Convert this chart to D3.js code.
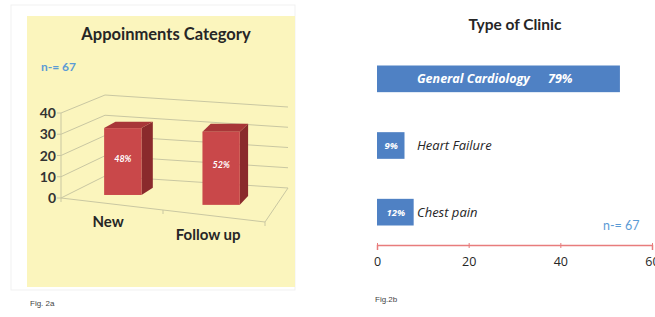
<!DOCTYPE html>
<html>
<head>
<meta charset="utf-8">
<script src="https://cdn.jsdelivr.net/npm/d3@7"></script>
<style>
  body { margin: 0; background: #ffffff; }
  svg { display: block; }
</style>
</head>
<body>
<svg id="chart" width="655" height="317"></svg>
<script>
// ---- data (n = 67) ----
let apptCategories = ["New", "Follow up"];
let apptValues = [32, 35];          // 48% and 52% of 67
let apptLabels = ["48%", "52%"];
let apptTicks = [0, 10, 20, 30, 40];

let clinicTypes = ["General Cardiology", "Heart Failure", "Chest pain"];
let clinicValues = [53, 6, 8];      // 79%, 9%, 12% of 67
let clinicLabels = ["79%", "9%", "12%"];
let clinicTicks = [0, 20, 40, 60];

let svg = d3.select("#chart");
let font = "Lato, 'Open Sans', sans-serif";

// =========== Fig 2a : 3D column chart ===========
let left = svg.append("g");

// faint outer frame + yellow plot panel
left.append("rect").attr("x", 11).attr("y", 5).attr("width", 284).attr("height", 285)
    .attr("fill", "none").attr("stroke", "#f1f1f1");
left.append("rect").attr("x", 27).attr("y", 16).attr("width", 268).attr("height", 271)
    .attr("fill", "#fbf5bd");

left.append("text").attr("x", 166).attr("y", 40)
    .attr("text-anchor", "middle").attr("font-family", font)
    .attr("font-weight", "bold").attr("font-size", 16.5).attr("fill", "#262626")
    .text("Appoinments Category");

left.append("text").attr("x", 41).attr("y", 71)
    .attr("font-family", font).attr("font-weight", "bold")
    .attr("font-size", 12).attr("fill", "#5b9bd5")
    .text("n-= 67");

// u : position along category axis (0..1), value scale -> fraction of height
let uScale = d3.scaleBand().domain(apptCategories).range([-0.014, 0.986]).paddingInner(0.62).paddingOuter(0.31);
let vScale = d3.scaleLinear().domain([0, 40]).range([0, 1]);

// simple bilinear oblique projection (front plane / back wall)
function proj(u, v, d) {
    let xF = 61 + 204 * u, yF = 198 + 24 * u, hF = 85;
    let xB = 105 + 183 * u, yB = 176 + 12 * u, hB = 81;
    let t = vScale(v);
    return [xF + (xB - xF) * d,
            yF + (yB - yF) * d - t * (hF + (hB - hF) * d)];
}
let line = d3.line();
let gridColor = "#c9c7a2";

// walls: gridlines on side wall + back wall
apptTicks.forEach(v => {
    left.append("path")
        .attr("d", line([proj(0, v, 0), proj(0, v, 1), proj(1, v, 1)]))
        .attr("fill", "none").attr("stroke", gridColor).attr("stroke-width", 1);
});
// floor front + right edges
left.append("path")
    .attr("d", line([proj(0, 0, 0), proj(1, 0, 0), proj(1, 0, 1)]))
    .attr("fill", "none").attr("stroke", gridColor);
// vertical value axis
left.append("path")
    .attr("d", line([proj(0, 0, 0), proj(0, 40, 0)]))
    .attr("stroke", gridColor);
// value ticks + labels
apptTicks.forEach(v => {
    let p = proj(0, v, 0);
    left.append("line").attr("x1", p[0] - 4).attr("x2", p[0]).attr("y1", p[1]).attr("y2", p[1])
        .attr("stroke", gridColor);
    left.append("text").attr("x", p[0] - 5).attr("y", p[1] + 5)
        .attr("text-anchor", "end").attr("font-family", font)
        .attr("font-weight", "bold").attr("font-size", 14).attr("fill", "#333")
        .text(v);
});
// category ticks on floor edge
[0, 0.5, 1].forEach(u => {
    let p = proj(u, 0, 0);
    left.append("line").attr("x1", p[0]).attr("x2", p[0]).attr("y1", p[1]).attr("y2", p[1] + 4)
        .attr("stroke", gridColor);
});

// bars
let d1 = 0.35, d2 = 0.64;
apptCategories.forEach((c, i) => {
    let u0 = uScale(c), u1 = u0 + uScale.bandwidth(), uc = (u0 + u1) / 2;
    let v = apptValues[i];
    let xl = proj(u0, 0, d1)[0], xr = proj(u1, 0, d1)[0];
    let yb = proj(uc, 0, d1)[1], yt = proj(uc, v, d1)[1];
    let ob = [proj(uc, 0, d2)[0] - proj(uc, 0, d1)[0], proj(uc, 0, d2)[1] - proj(uc, 0, d1)[1]];
    let ot = [proj(uc, v, d2)[0] - proj(uc, v, d1)[0], proj(uc, v, d2)[1] - proj(uc, v, d1)[1]];
    // side face
    left.append("path")
        .attr("d", line([[xr, yt], [xr, yb], [xr + ob[0], yb + ob[1]], [xr + ot[0], yt + ot[1]]]) + "Z")
        .attr("fill", "#8a2a2c");
    // top face
    left.append("path")
        .attr("d", line([[xl, yt], [xr, yt], [xr + ot[0], yt + ot[1]], [xl + ot[0], yt + ot[1]]]) + "Z")
        .attr("fill", "#a83638");
    // front face
    left.append("rect").attr("x", xl).attr("y", yt).attr("width", xr - xl).attr("height", yb - yt)
        .attr("fill", "#c9484a");
    left.append("text").attr("x", (xl + xr) / 2).attr("y", (yt + yb) / 2)
        .attr("text-anchor", "middle").attr("font-family", font)
        .attr("font-weight", "bold").attr("font-style", "italic")
        .attr("font-size", 9).attr("fill", "#ffffff")
        .text(apptLabels[i]);
    // category label
    let pc = proj(uScale(c) + uScale.bandwidth() / 2, 0, 0);
    left.append("text").attr("x", pc[0] - 1 - 2 * i).attr("y", pc[1] + 23 + i)
        .attr("text-anchor", "middle").attr("font-family", font)
        .attr("font-weight", "bold").attr("font-size", 15).attr("fill", "#262626")
        .text(c);
});

left.append("text").attr("x", 30).attr("y", 306)
    .attr("font-family", "'Liberation Sans', Arial, sans-serif").attr("font-size", 8).attr("fill", "#444")
    .text("Fig. 2a");

// =========== Fig 2b : horizontal bar chart ===========
let right = svg.append("g");
let x = d3.scaleLinear().domain([0, 60]).range([377, 652]);
let y = d3.scaleBand().domain(clinicTypes).range([45.5, 245.5]).paddingInner(0.6).paddingOuter(0.3);

right.append("text").attr("x", 515).attr("y", 30)
    .attr("text-anchor", "middle").attr("font-family", font)
    .attr("font-weight", "bold").attr("font-size", 15.5).attr("fill", "#262626")
    .text("Type of Clinic");

right.selectAll("rect.bar")
    .data(clinicTypes)
    .enter().append("rect")
        .attr("class", "bar")
        .attr("x", x(0))
        .attr("y", d => y(d))
        .attr("width", (d, i) => x(clinicValues[i]) - x(0))
        .attr("height", y.bandwidth())
        .attr("fill", "#4f81c4");

// labels: first bar holds name + percent, small bars hold percent only
clinicTypes.forEach((c, i) => {
    let cy = y(c) + y.bandwidth() / 2 + 4.5;
    if (i === 0) {
        right.append("text").attr("x", 417).attr("y", cy)
            .attr("font-family", "'Open Sans', sans-serif").attr("font-weight", "bold")
            .attr("font-style", "italic").attr("font-size", 12.5).attr("fill", "#ffffff")
            .text(c);
        right.append("text").attr("x", 548).attr("y", cy)
            .attr("font-family", "'Open Sans', sans-serif").attr("font-weight", "bold")
            .attr("font-style", "italic").attr("font-size", 12.5).attr("fill", "#ffffff")
            .text(clinicLabels[i]);
    } else {
        right.append("text").attr("x", (x(0) + x(clinicValues[i])) / 2 + 0.5).attr("y", cy - 1)
            .attr("text-anchor", "middle")
            .attr("font-family", "'Open Sans', sans-serif").attr("font-weight", "bold")
            .attr("font-style", "italic").attr("font-size", 9.5).attr("fill", "#ffffff")
            .text(clinicLabels[i]);
        right.append("text").attr("x", 417).attr("y", cy)
            .attr("font-family", "'Open Sans', sans-serif")
            .attr("font-style", "italic").attr("font-size", 13).attr("fill", "#262626")
            .text(c);
    }
});

right.append("text").attr("x", 603).attr("y", 230)
    .attr("font-family", font).attr("font-size", 12.5).attr("fill", "#5b9bd5")
    .text("n-= 67");

// axis
let axis = right.append("g")
    .attr("transform", "translate(0,245)")
    .call(d3.axisBottom(x).tickValues(clinicTicks).tickSizeInner(3).tickSizeOuter(5).tickPadding(9));
axis.select(".domain").attr("stroke", "#e87c7c").attr("stroke-width", 1.5);
axis.selectAll(".tick line").attr("stroke", "#e87c7c").attr("y1", -2);
axis.selectAll(".tick text")
    .attr("font-family", "'Open Sans', sans-serif").attr("font-size", 12.5).attr("fill", "#262626");

right.append("text").attr("x", 375).attr("y", 302)
    .attr("font-family", "'Liberation Sans', Arial, sans-serif").attr("font-size", 8).attr("fill", "#444")
    .text("Fig.2b");
</script>
</body>
</html>
